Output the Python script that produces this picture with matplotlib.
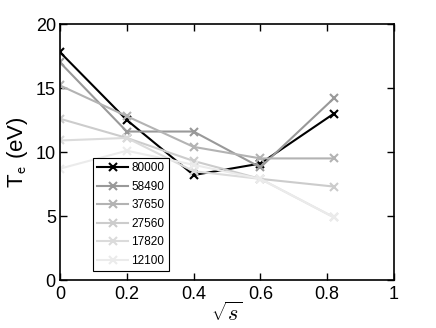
import numpy as np
from matplotlib import pyplot as plt

plt.rcParams['font.family'] = ['Liberation Sans', 'DejaVu Sans']
plt.rcParams['mathtext.fontset'] = 'cm'

# sqrt(s) positions
sqrt_s = [0.0, 0.2, 0.4, 0.6, 0.82]

labels = ["80000", "58490", "37650", "27560", "17820", "12100"]
te_80000 = [17.8, 12.5, 8.2, 9.1, 13.0]
te_58490 = [17.0, 11.6, 11.6, 8.8, 14.2]
te_37650 = [15.2, 12.8, 10.4, 9.5, 9.5]
te_27560 = [12.6, 11.1, 9.3, 7.9, 7.3]
te_17820 = [10.9, 11.1, 8.5, 7.9, 4.9]
te_12100 = [8.7, 10.1, 9.0, 7.9, 4.9]
series = [te_80000, te_58490, te_37650, te_27560, te_17820, te_12100]

greys = ['0.0', '0.6', '0.7', '0.8', '0.86', '0.92']

fig = plt.figure(figsize=(4.36, 3.28), dpi=100)
ax = fig.add_axes([0.1376, 0.1463, 0.7661, 0.7805])

for vals, lab, c in zip(series, labels, greys):
    ax.plot(sqrt_s, vals, color=c, marker='x', markersize=6,
            markeredgewidth=1.5, linewidth=1.5, label=lab)

ax.set_xlim(0, 1)
ax.set_ylim(0, 20)
ax.set_xticks(np.arange(0, 1.01, 0.2))
ax.set_xticklabels(['0', '0.2', '0.4', '0.6', '0.8', '1'])
ax.set_yticks(np.arange(0, 21, 5))
ax.tick_params(direction='in', top=True, right=True, labelsize=13,
               length=5, width=1)
ax.tick_params(axis='x', pad=4)
ax.tick_params(axis='y', pad=3)
for sp in ax.spines.values():
    sp.set_linewidth(1.2)

ax.set_xlabel(r'$\sqrt{s}$', fontsize=16, labelpad=0)
ax.set_ylabel(r'T$_{\mathsf{e}}$ (eV)', fontsize=16, labelpad=4)

leg = ax.legend(loc='lower left', bbox_to_anchor=(0.099, 0.035),
                borderaxespad=0, fontsize=8.5, fancybox=False, framealpha=1,
                edgecolor='black', handlelength=2.6, labelspacing=0.55,
                borderpad=0.35, handletextpad=0.3)
leg.get_frame().set_linewidth(0.8)

fig.savefig('out.png', dpi=100)
